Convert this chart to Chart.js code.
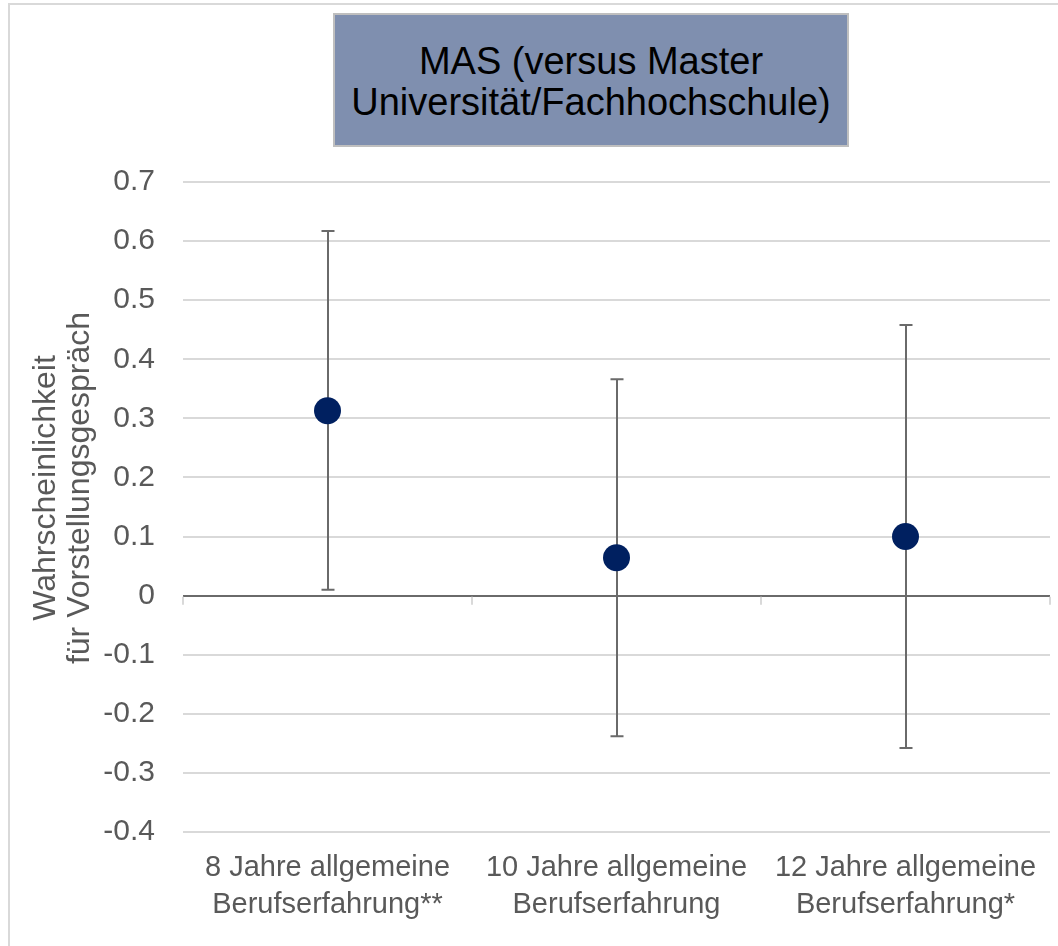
<!DOCTYPE html>
<html lang="de">
<head>
<meta charset="utf-8">
<title>MAS (versus Master Universität/Fachhochschule)</title>
<script src="https://cdn.jsdelivr.net/npm/chart.js@4.4.1/dist/chart.umd.min.js"></script>
<style>
  html, body { margin: 0; padding: 0; background: #ffffff; }
  #wrap { position: relative; width: 1058px; height: 946px; overflow: hidden; }
  #frame {
    position: absolute; left: 8px; top: 3px; width: 1100px; height: 1000px;
    border: 2px solid #d9d9d9; box-sizing: border-box;
  }
  #chart { position: absolute; left: 0; top: 0; }
  #headline {
    position: absolute; left: 333px; top: 13px; width: 516px; height: 134px;
    box-sizing: border-box; background: #7f8faf; border: 2px solid #bfbfbf;
    display: flex; align-items: center; justify-content: center; text-align: center;
    font-family: 'Liberation Sans', Arial, sans-serif; font-size: 38px; line-height: 41px;
    color: #000000; padding-top: 4px;
  }
</style>
</head>
<body>
<div id="wrap">
  <div id="frame"></div>
  <canvas id="chart" width="1058" height="946"></canvas>
  <div id="headline">MAS (versus Master<br>Universität/Fachhochschule)</div>
</div>
<script>
// Category labels (two lines each)
const categories = [
  ['8 Jahre allgemeine', 'Berufserfahrung**'],
  ['10 Jahre allgemeine', 'Berufserfahrung'],
  ['12 Jahre allgemeine', 'Berufserfahrung*']
];
// Point estimates and confidence bounds
const estimates   = [0.313, 0.064, 0.100];
const lowerBounds = [0.010, -0.238, -0.258];
const upperBounds = [0.617, 0.366, 0.458];
// Value axis
const yMin = -0.4;
const yMax = 0.7;
const yStep = 0.1;
const yTitleLines = ['Wahrscheinlichkeit', 'für Vorstellungsgespräch'];

const FONT = "'Liberation Sans', Arial, sans-serif";
const GREY_TEXT = '#595959';
const LINE_DARK = '#6a6a6a';
const LINE_LIGHT = '#d9d9d9';

const isZero = v => Math.abs(v) < 1e-9;

// Whiskers with caps, drawn underneath the points
const errorBars = {
  id: 'errorBars',
  beforeDatasetsDraw(chart) {
    const { ctx, scales: { x, y } } = chart;
    const cap = 6.5;
    ctx.save();
    ctx.strokeStyle = LINE_DARK;
    ctx.lineWidth = 2;
    estimates.forEach((_, i) => {
      const px = Math.round(x.getPixelForValue(i));
      const yTop = y.getPixelForValue(upperBounds[i]);
      const yBot = y.getPixelForValue(lowerBounds[i]);
      ctx.beginPath();
      ctx.moveTo(px, yTop); ctx.lineTo(px, yBot);
      ctx.moveTo(px - cap, yTop); ctx.lineTo(px + cap, yTop);
      ctx.moveTo(px - cap, yBot); ctx.lineTo(px + cap, yBot);
      ctx.stroke();
    });
    ctx.restore();
  }
};

// Category boundary tick marks hanging below the zero line
const zeroAxisTicks = {
  id: 'zeroAxisTicks',
  beforeDatasetsDraw(chart) {
    const { ctx, scales: { x, y } } = chart;
    const y0 = y.getPixelForValue(0);
    ctx.save();
    ctx.strokeStyle = LINE_LIGHT;
    ctx.lineWidth = 2;
    for (let i = 0; i <= categories.length; i++) {
      const px = Math.round(x.getPixelForValue(i - 0.5));
      ctx.beginPath();
      ctx.moveTo(px, y0 + 1);
      ctx.lineTo(px, y0 + 9);
      ctx.stroke();
    }
    ctx.restore();
  }
};

// Rotated two-line value axis title
const valueAxisTitle = {
  id: 'valueAxisTitle',
  afterDraw(chart) {
    const { ctx, chartArea } = chart;
    const cy = (chartArea.top + chartArea.bottom) / 2 - 19;
    ctx.save();
    ctx.fillStyle = GREY_TEXT;
    ctx.font = '32px ' + FONT;
    ctx.textAlign = 'center';
    ctx.textBaseline = 'middle';
    ctx.translate(46, cy);
    ctx.rotate(-Math.PI / 2);
    yTitleLines.forEach((line, i) => ctx.fillText(line, 0, i * 34));
    ctx.restore();
  }
};

new Chart(document.getElementById('chart'), {
  type: 'line',
  data: {
    labels: categories,
    datasets: [{
      data: estimates,
      showLine: false,
      clip: false,
      pointRadius: 13.5,
      pointHoverRadius: 13.5,
      pointBackgroundColor: '#002060',
      pointBorderColor: '#002060',
      pointBorderWidth: 0
    }]
  },
  options: {
    responsive: false,
    animation: false,
    events: [],
    layout: { autoPadding: false, padding: { top: 182, right: 8, bottom: 0, left: 0 } },
    plugins: {
      legend: { display: false },
      title: { display: false },
      tooltip: { enabled: false }
    },
    scales: {
      x: {
        type: 'category',
        offset: true,
        grid: { display: false, drawTicks: false },
        border: { display: false },
        ticks: {
          color: GREY_TEXT,
          padding: 18,
          maxRotation: 0,
          autoSkip: false,
          font: { family: FONT, size: 29, lineHeight: 1.26 }
        },
        afterFit(scale) {
          scale.height = 114;
          scale.paddingLeft = 0;
          scale.paddingRight = 0;
        }
      },
      y: {
        min: yMin,
        max: yMax,
        grid: {
          drawTicks: false,
          color: c => isZero(c.tick.value) ? LINE_DARK : LINE_LIGHT,
          lineWidth: 2
        },
        border: { display: false },
        ticks: {
          stepSize: yStep,
          color: GREY_TEXT,
          padding: 28,
          font: { family: FONT, size: 30 },
          callback: v => isZero(v) ? '0' : Number(v).toFixed(1)
        },
        afterFit(scale) { scale.width = 183; }
      }
    }
  },
  plugins: [errorBars, zeroAxisTicks, valueAxisTitle]
});
</script>
</body>
</html>
